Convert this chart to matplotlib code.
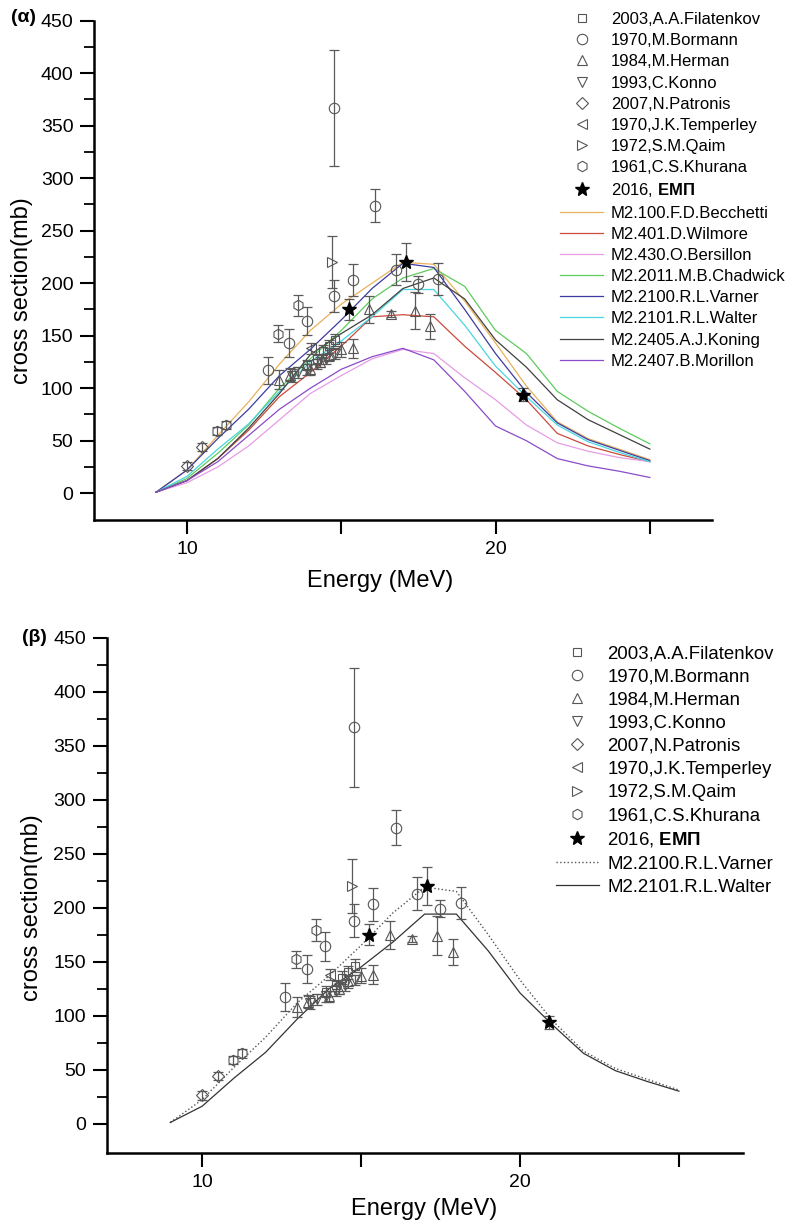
import numpy as np
import matplotlib
matplotlib.use("Agg")
import matplotlib.pyplot as plt

plt.rcParams['font.family'] = ['Liberation Sans', 'DejaVu Sans']
plt.rcParams['mathtext.fontset'] = 'custom'
plt.rcParams['mathtext.rm'] = 'Liberation Sans'
plt.rcParams['mathtext.bf'] = 'Liberation Sans:bold'

# ---- experimental data (Energy MeV, cross section mb, error mb) ----
filatenkov_E = [13.9, 14.2, 14.4, 14.6, 14.8]
filatenkov_s = [122, 128, 135, 140, 146]
filatenkov_err = [5, 5, 6, 6, 6]

bormann_E = [12.62, 13.31, 13.88, 14.77, 14.77, 15.39, 16.09, 16.76, 17.48, 18.14]
bormann_s = [117, 143, 164, 188, 367, 203, 274, 213, 199, 204]
bormann_err = [13, 13, 13, 15, 55, 15, 16, 15, 8, 15]

herman_E = [12.98, 13.34, 14.0, 14.3, 14.6, 15.0, 15.39, 15.9, 16.6, 17.39, 17.88]
herman_s = [108, 113, 118, 125, 132, 137, 138, 175, 171, 174, 159]
herman_err = [9, 6, 5, 5, 6, 7, 9, 13, 3, 18, 12]

konno_E = [13.4, 13.6, 13.9, 14.2, 14.5, 14.8]
konno_s = [112, 115, 118, 123, 128, 133]
konno_err = [6, 5, 5, 5, 5, 5]

patronis_E = [10.0, 10.5]
patronis_s = [26, 44]
patronis_err = [4, 4]

temperley_E = [14.02]
temperley_s = [138]
temperley_err = [5]

qaim_E = [14.71]
qaim_s = [220]
qaim_err = [25]

khurana_E = [10.96, 11.27, 12.94, 13.59]
khurana_s = [59, 65, 152, 179]
khurana_err = [4, 4, 8, 10]

emp_E = [15.26, 17.09, 20.9]
emp_s = [175, 220, 94]
emp_err = [10, 18, 6]

# ---- model curves ----
model_E = [9, 10, 11, 12, 13, 14, 15, 16, 17, 18, 19, 20, 21, 22, 23, 24, 25]
becchetti = [1, 22, 55, 87, 123, 155, 180, 200, 220, 218, 183, 143, 102, 68, 52, 42, 32]
wilmore = [1, 12, 33, 60, 92, 115, 140, 168, 170, 168, 140, 115, 89, 57, 45, 37, 30]
bersillon = [1, 10, 25, 45, 70, 95, 112, 128, 137, 133, 110, 89, 65, 48, 40, 34, 30]
chadwick = [1, 14, 38, 65, 100, 128, 155, 185, 205, 214, 197, 155, 133, 97, 78, 62, 47]
varner = [1, 22, 52, 80, 112, 137, 165, 195, 219, 215, 175, 133, 96, 67, 51, 41, 31]
walter = [1, 16, 42, 66, 97, 125, 145, 168, 194, 194, 160, 121, 92, 65, 49, 39, 30]
koning = [1, 12, 33, 62, 95, 132, 152, 170, 195, 205, 185, 146, 120, 89, 70, 56, 42]
morillon = [1, 12, 30, 55, 80, 100, 118, 130, 138, 127, 97, 64, 50, 33, 26, 21, 15]

exp_sets = [
    ("2003,A.A.Filatenkov", 's', filatenkov_E, filatenkov_s, filatenkov_err),
    ("1970,M.Bormann", 'o', bormann_E, bormann_s, bormann_err),
    ("1984,M.Herman", '^', herman_E, herman_s, herman_err),
    ("1993,C.Konno", 'v', konno_E, konno_s, konno_err),
    ("2007,N.Patronis", 'D', patronis_E, patronis_s, patronis_err),
    ("1970,J.K.Temperley", '<', temperley_E, temperley_s, temperley_err),
    ("1972,S.M.Qaim", '>', qaim_E, qaim_s, qaim_err),
    ("1961,C.S.Khurana", 'h', khurana_E, khurana_s, khurana_err),
]

models = [
    ("M2.100.F.D.Becchetti", becchetti, '#e8b25a'),
    ("M2.401.D.Wilmore", wilmore, '#cc4a3c'),
    ("M2.430.O.Bersillon", bersillon, '#e79ce6'),
    ("M2.2011.M.B.Chadwick", chadwick, '#5ccc5c'),
    ("M2.2100.R.L.Varner", varner, '#3c3ca0'),
    ("M2.2101.R.L.Walter", walter, '#48d6e0'),
    ("M2.2405.A.J.Koning", koning, '#404040'),
    ("M2.2407.B.Morillon", morillon, '#8a4cc8'),
]

W, H = 791, 1230
fig = plt.figure(figsize=(W / 100, H / 100), dpi=100)


def draw_exp(ax):
    handles = []
    for name, mk, E, s, err in exp_sets:
        ms = 6 if mk in ('D', 's') else 7.5
        ax.errorbar(E, s, yerr=err, fmt='none', ecolor='#5a5a5a', elinewidth=0.9,
                    capsize=3.5, capthick=0.9, zorder=3)
        h, = ax.plot(E, s, linestyle='none', marker=mk, markersize=ms,
                     markerfacecolor='none', markeredgecolor='#555555',
                     markeredgewidth=0.8, zorder=4, label=name)
        handles.append(h)
    ax.errorbar(emp_E, emp_s, yerr=emp_err, fmt='none', ecolor='#5a5a5a',
                elinewidth=0.9, capsize=3.5, capthick=0.9, zorder=3)
    h, = ax.plot(emp_E, emp_s, linestyle='none', marker='*', markersize=10,
                 color='black', zorder=5, label=r'2016, $\mathbf{ΕΜΠ}$')
    handles.append(h)
    return handles


def style_axes(ax, ylow):
    ax.set_xlim(7, 27)
    ax.set_ylim(ylow, 450)
    for side in ('top', 'right'):
        ax.spines[side].set_visible(False)
    for side in ('left', 'bottom'):
        ax.spines[side].set_linewidth(1.8)
    ax.set_xticks([10, 15, 20, 25])
    ax.set_xticklabels(['10', '', '20', ''])
    ax.set_yticks(np.arange(0, 451, 50))
    ax.set_yticks(np.arange(25, 450, 50), minor=True)
    ax.tick_params(axis='both', which='major', direction='out', length=10,
                   width=1.5, labelsize=14, pad=5)
    ax.tick_params(axis='y', which='minor', direction='out', length=7, width=1.3)
    ax.set_xlabel('Energy (MeV)', fontsize=17)
    ax.set_ylabel('cross section(mb)', fontsize=17)


# ---- panel (α) ----
ax1 = fig.add_axes([94.3 / W, 1 - 520 / H, (711.6 - 94.3) / W, (520 - 20.7) / H])
hs = draw_exp(ax1)
for name, vals, col in models:
    h, = ax1.plot(model_E, vals, color=col, linewidth=0.9, label=name, zorder=2)
    hs.append(h)
style_axes(ax1, -25.5)
ax1.xaxis.set_label_coords(0.463, -0.1)
ax1.yaxis.set_label_coords(-0.099, 0.46)
fig.legend(handles=hs, loc='upper left', bbox_to_anchor=(560 / W, 1 - 12 / H),
           frameon=False, fontsize=12, handlelength=2.6, handletextpad=0.45,
           labelspacing=0.37, borderpad=0, borderaxespad=0)
fig.text(11 / W, 1 - 18 / H, '(α)', fontsize=14, fontweight='bold', va='center')

# ---- panel (β) ----
ax2 = fig.add_axes([106.7 / W, 1 - 1152.7 / H, (742.5 - 106.7) / W, (1152.7 - 637.7) / H])
hs2 = draw_exp(ax2)
h, = ax2.plot(model_E, varner, color='#555555', linestyle=':', linewidth=1.0,
              label='M2.2100.R.L.Varner', zorder=2)
hs2.append(h)
h, = ax2.plot(model_E, walter, color='#333333', linestyle='-', linewidth=0.9,
              label='M2.2101.R.L.Walter', zorder=2)
hs2.append(h)
style_axes(ax2, -27)
ax2.xaxis.set_label_coords(0.5, -0.088)
ax2.yaxis.set_label_coords(-0.1, 0.475)
fig.legend(handles=hs2, loc='upper left', bbox_to_anchor=(556 / W, 1 - 645 / H),
           frameon=False, fontsize=13.4, handlelength=2.3, handletextpad=0.45,
           labelspacing=0.33, borderpad=0, borderaxespad=0)
fig.text(22 / W, 1 - 637 / H, '(β)', fontsize=14, fontweight='bold', va='center')

fig.savefig('out.png', dpi=100)
